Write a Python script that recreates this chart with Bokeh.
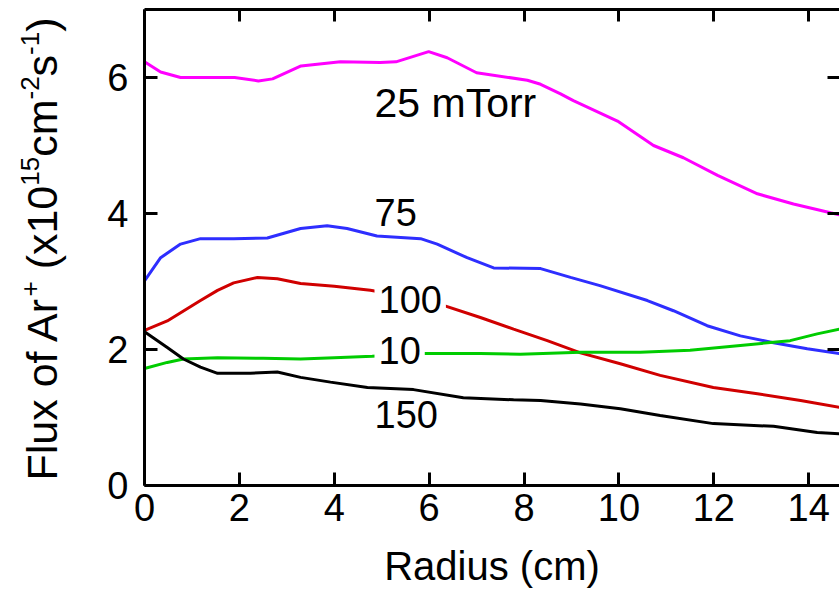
import numpy as np
from bokeh.plotting import figure
from bokeh.layouts import row
from bokeh.models import Label, LinearAxis, FixedTicker, Range1d
from bokeh.embed import file_html
from bokeh.resources import INLINE

# ---------------- data ----------------
x_25 = [0, 0.34, 0.76, 1.9, 2.4, 2.7, 3.3, 4.13, 4.97, 5.3, 5.99, 6.38, 7.0, 8.07, 8.35,
        8.77, 9.04, 9.97, 10.73, 11.36, 12.08, 12.92, 13.68, 14.46, 14.65]
y_25 = [6.23, 6.08, 6.0, 6.0, 5.95, 5.98, 6.17, 6.23, 6.22, 6.23, 6.38, 6.29, 6.07, 5.96, 5.9,
        5.76, 5.66, 5.36, 5.0, 4.82, 4.56, 4.29, 4.14, 4.01, 3.98]

x_75 = [0, 0.34, 0.76, 1.18, 1.88, 2.59, 3.29, 3.85, 4.27, 4.9, 5.82, 6.17, 6.8, 7.36, 8.35,
        8.98, 9.6, 10.6, 11.15, 11.86, 12.56, 13.26, 13.97, 14.65]
y_75 = [3.01, 3.35, 3.55, 3.63, 3.63, 3.64, 3.78, 3.82, 3.78, 3.67, 3.63, 3.55, 3.35, 3.2, 3.19,
        3.06, 2.94, 2.72, 2.57, 2.35, 2.2, 2.1, 2.01, 1.94]

x_100 = [0, 0.48, 1.18, 1.54, 1.88, 2.38, 2.8, 3.29, 4.0, 4.76, 5.5, 6.3, 7.08, 7.78, 8.49,
         9.19, 10.03, 10.87, 11.99, 12.92, 13.83, 14.65]
y_100 = [2.28, 2.42, 2.72, 2.87, 2.98, 3.06, 3.04, 2.97, 2.93, 2.87, 2.78, 2.65, 2.47, 2.3, 2.13,
         1.95, 1.79, 1.62, 1.44, 1.35, 1.25, 1.15]

x_10 = [0, 0.48, 0.82, 1.54, 2.5, 3.29, 4.0, 4.8, 5.3, 5.86, 7.08, 7.92, 9.19, 10.45, 11.5,
        12.56, 13.61, 14.18, 14.65]
y_10 = [1.72, 1.81, 1.86, 1.88, 1.87, 1.86, 1.88, 1.9, 1.92, 1.94, 1.94, 1.93, 1.96, 1.96, 1.99,
        2.06, 2.13, 2.23, 2.3]

x_150 = [0, 0.48, 0.82, 1.18, 1.54, 2.23, 2.8, 3.29, 3.92, 4.7, 5.67, 6.72, 7.78, 8.35, 9.19,
         10.03, 10.87, 11.99, 13.26, 14.18, 14.65]
y_150 = [2.26, 2.03, 1.86, 1.74, 1.65, 1.65, 1.67, 1.59, 1.52, 1.44, 1.41, 1.29, 1.26, 1.25, 1.2,
         1.13, 1.03, 0.91, 0.87, 0.78, 0.76]

x_ticks = [0, 2, 4, 6, 8, 10, 12, 14]
y_ticks = [0, 2, 4, 6]
curve_names = ["25 mTorr", "75", "100", "10", "150"]
x_title = "Radius (cm)"
y_title_parts = ["Flux of Ar", "+", " (x10", "15", "cm", "-2", "s", "-1", ")"]
y_title_sup = [False, True, False, True, False, True, False, True, False]

# ---------------- layout constants ----------------
W, H = 839, 591
LW = 70                                  # width of the strip holding the y title
FL, FR, FT, FB = 144, 839, 9, 485        # frame edges in page px
XMAX, YMAX = 14.65, 7.0
FONT = "Liberation Sans"
MID = 0.347                              # em offset baseline -> 'middle'


def dx(px):
    return (px - FL) * XMAX / (FR - FL)


def dy(py):
    return (FB - py) * YMAX / (FB - FT)


p = figure(width=W - LW, height=H, x_range=Range1d(0, XMAX), y_range=Range1d(0, YMAX),
           output_backend="svg", toolbar_location=None,
           min_border_left=FL - LW, min_border_right=W - FR, min_border_top=FT,
           min_border_bottom=H - FB)
p.outline_line_color = None
p.grid.visible = False
p.background_fill_color = "white"
p.border_fill_color = "white"


def style(ax, tick_in, show_labels=True, line=True, ticks=None):
    ax.axis_line_width = 3
    ax.axis_line_color = "black" if line else None
    ax.major_tick_line_width = 3
    ax.major_tick_in = tick_in
    ax.major_tick_out = 0
    ax.minor_tick_line_color = None
    if show_labels:
        ax.major_label_text_font = FONT
        ax.major_label_text_font_size = "38px"
        ax.major_label_text_color = "black"
    else:
        ax.major_label_overrides = {t: "" for t in ticks}
        ax.major_label_text_font_size = "1px"
        ax.major_label_standoff = 0


bx = p.xaxis[0]
bx.ticker = FixedTicker(ticks=x_ticks)
style(bx, 13)
bx.major_label_standoff = 8
bx.axis_label = x_title
bx.axis_label_text_font = FONT
bx.axis_label_text_font_size = "40px"
bx.axis_label_text_font_style = "normal"
bx.axis_label_text_color = "black"
bx.axis_label_standoff = 20

ly = p.yaxis[0]
ly.ticker = FixedTicker(ticks=y_ticks)
style(ly, 13)
ly.major_label_standoff = 16

tx = LinearAxis(ticker=FixedTicker(ticks=x_ticks))
style(tx, 12, show_labels=False, ticks=x_ticks)
p.add_layout(tx, "above")

ry = LinearAxis(ticker=FixedTicker(ticks=y_ticks))
style(ry, 12, show_labels=False, line=False, ticks=y_ticks)
p.add_layout(ry, "right")

# ---------------- curves ----------------
p.line(x_25, y_25, line_color="#FF00FF", line_width=3)
p.line(x_75, y_75, line_color="#2E2EFF", line_width=3)
p.line(x_100, y_100, line_color="#D00000", line_width=3)
p.line(x_10, y_10, line_color="#00CC00", line_width=3)
p.line(x_150, y_150, line_color="black", line_width=3)

# ---------------- curve labels ----------------
label_size = [41, 38, 38, 38, 38]
label_base = [117, 225, 312, 363, 427]
label_bg = [None, None, "white", "white", None]
for name, size, base, bg in zip(curve_names, label_size, label_base, label_bg):
    kw = {}
    if bg:
        kw = dict(background_fill_color=bg, padding=4)
    p.add_layout(Label(x=dx(374), y=dy(base - MID * size), text=name, text_font=FONT,
                       text_font_size=f"{size}px", text_align="left",
                       text_baseline="middle", text_color="black", **kw))

# ---------------- y title strip (data y == page px from top) ----------------
t = figure(width=LW, height=H, x_range=Range1d(0, LW), y_range=Range1d(FB, FT),
           output_backend="svg", toolbar_location=None,
           x_axis_location=None, y_axis_location=None,
           min_border_left=0, min_border_right=0,
           min_border_top=FT, min_border_bottom=H - FB)
t.outline_line_color = None
t.grid.visible = False
t.background_fill_color = "white"
t.border_fill_color = "white"

ADV = {'F': 611, 'l': 222, 'u': 556, 'x': 500, ' ': 278, 'o': 556, 'f': 278, 'A': 667,
       'r': 333, '+': 584, '(': 333, '1': 556, '0': 556, '5': 556, 'c': 500, 'm': 833,
       '-': 333, '2': 556, 's': 500, ')': 333}
MAIN, SUP = 43, 26
base_main, base_sup = 56, 39
cursor = 480.0
for part, sup in zip(y_title_parts, y_title_sup):
    size = SUP if sup else MAIN
    stripped = part.lstrip(" ")
    cursor -= (len(part) - len(stripped)) * ADV[' '] / 1000 * size
    length = sum(ADV[c] for c in stripped) / 1000 * size
    bxp = (base_sup if sup else base_main) - MID * size
    t.add_layout(Label(x=bxp, y=cursor - length / 2, text=stripped,
                       angle=np.pi / 2, text_font=FONT, text_font_size=f"{size}px",
                       text_align="center", text_baseline="middle", text_color="black"))
    cursor -= length

layout = row(t, p, spacing=0)
open("out.html", "w").write(file_html(layout, INLINE))
